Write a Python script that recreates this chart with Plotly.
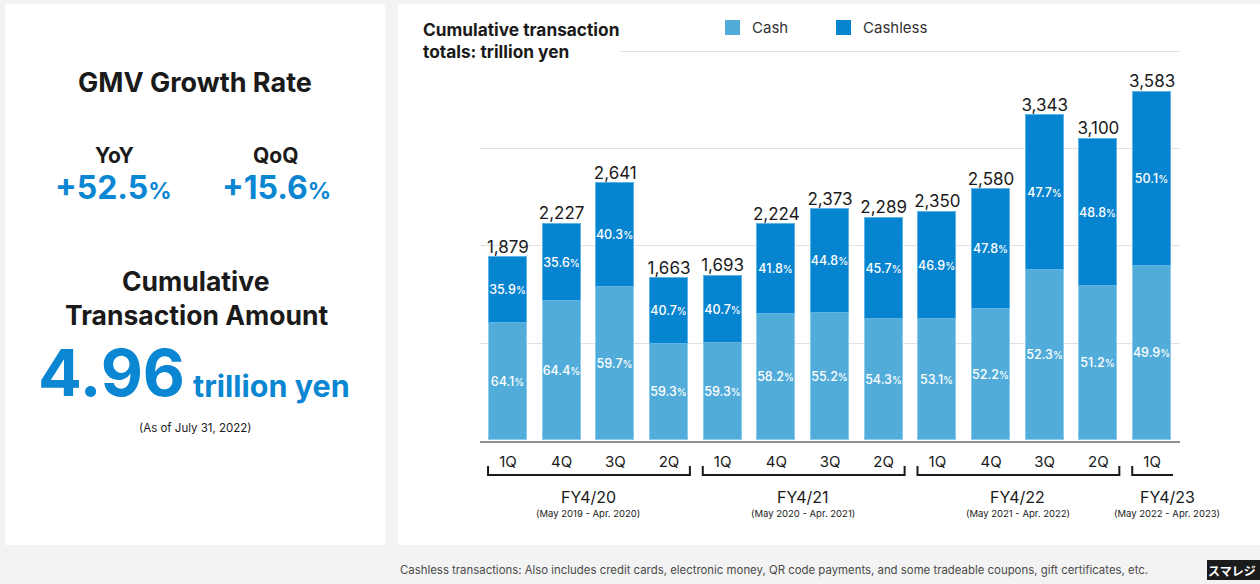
import plotly.graph_objects as go

# ---- data -------------------------------------------------------------
quarters = ["1Q", "4Q", "3Q", "2Q", "1Q", "4Q", "3Q", "2Q", "1Q", "4Q", "3Q", "2Q", "1Q"]
totals = [1879, 2227, 2641, 1663, 1693, 2224, 2373, 2289, 2350, 2580, 3343, 3100, 3583]
cash_pct = [64.1, 64.4, 59.7, 59.3, 59.3, 58.2, 55.2, 54.3, 53.1, 52.2, 52.3, 51.2, 49.9]
cashless_pct = [35.9, 35.6, 40.3, 40.7, 40.7, 41.8, 44.8, 45.7, 46.9, 47.8, 47.7, 48.8, 50.1]

fiscal_years = ["FY4/20", "FY4/21", "FY4/22", "FY4/23"]
fiscal_periods = ["(May 2019 - Apr. 2020)", "(May 2020 - Apr. 2021)",
                  "(May 2021 - Apr. 2022)", "(May 2022 - Apr. 2023)"]
fiscal_groups = [(0, 3), (4, 7), (8, 11), (12, 12)]

yoy_growth = "+52.5"
qoq_growth = "+15.6"
cumulative_amount = "4.96"

# ---- styling ----------------------------------------------------------
W, H = 1260, 584
FONT = "Inter"
CASH = "#52acd9"
CASHLESS = "#0784cf"
ACCENT = "#0a86d2"
INK = "#1a1a1a"

# vertical scale: value 0 sits on y=440.5px, value 4000 on y=51px
Y_TOP = 4040
BASE_PX = 440.5
PX_PER_UNIT = (440.5 - 51) / 4000


def px(x):
    return x / W


def py(y):
    return 1 - y / H


x = list(range(len(quarters)))
cash_vals = [t * c / 100 for t, c in zip(totals, cash_pct)]
cashless_vals = [t - c for t, c in zip(totals, cash_vals)]


def pct_text(v):
    return f"{v:.1f}<span style='font-size:10px'>%</span>"


fig = go.Figure()
fig.add_trace(go.Bar(
    x=x, y=cash_vals, name="Cash", width=0.71,
    marker=dict(color=CASH, line=dict(color="#8ccdee", width=1)),
    text=[pct_text(v) for v in cash_pct], textposition="inside",
    insidetextanchor="middle", textangle=0, constraintext="none",
    textfont=dict(family=FONT, size=12.5, color="white", weight=500),
    hoverinfo="skip",
))
fig.add_trace(go.Bar(
    x=x, y=cashless_vals, name="Cashless", width=0.71,
    marker=dict(color=CASHLESS, line=dict(color="#5fb4e6", width=1)),
    text=[pct_text(v) for v in cashless_pct], textposition="inside",
    insidetextanchor="middle", textangle=0, constraintext="none",
    textfont=dict(family=FONT, size=12.5, color="white", weight=500),
    hoverinfo="skip",
))
# totals above each stack
fig.add_trace(go.Scatter(
    x=x, y=totals, mode="text", text=[f"{t:,}" for t in totals],
    textposition="top center", cliponaxis=False,
    textfont=dict(family=FONT, size=17, color=INK),
    hoverinfo="skip",
))

shapes = []
annotations = []

# white panels on the grey page
shapes.append(dict(type="rect", xref="paper", yref="paper", layer="below",
                   x0=px(5), x1=px(385), y0=py(545), y1=py(4),
                   fillcolor="white", line=dict(width=0)))
shapes.append(dict(type="rect", xref="paper", yref="paper", layer="below",
                   x0=px(398), x1=px(1260), y0=py(545), y1=py(4),
                   fillcolor="white", line=dict(width=0)))

# fiscal-year brackets under the quarter labels
for i, (a, b) in enumerate(fiscal_groups):
    x0, x1 = a - 0.37, b + 0.39
    path = f"M {x0} {py(466)} L {x0} {py(475)} L {x1} {py(475)}"
    if i < len(fiscal_groups) - 1:
        path += f" L {x1} {py(466)}"
    shapes.append(dict(type="path", xref="x", yref="paper", path=path,
                       line=dict(color="#1a1a1a", width=2)))

fy_centers = [(a + b) / 2 for a, b in fiscal_groups]
fy_centers[-1] = 12.28
for c, name, period in zip(fy_centers, fiscal_years, fiscal_periods):
    annotations.append(dict(x=c, y=py(497), xref="x", yref="paper", text=name,
                            xanchor="center", yanchor="middle", showarrow=False,
                            font=dict(family=FONT, size=16, color=INK)))
    annotations.append(dict(x=c, y=py(513), xref="x", yref="paper", text=period,
                            xanchor="center", yanchor="middle", showarrow=False,
                            font=dict(family=FONT, size=9.5, color=INK)))

# chart title and legend
annotations.append(dict(x=px(422), y=py(40), xref="paper", yref="paper",
                        xanchor="left", yanchor="middle", align="left",
                        text="<b>Cumulative transaction<br>totals: trillion yen</b>",
                        showarrow=False, bgcolor="white", borderpad=0,
                        font=dict(family=FONT, size=17.3, color=INK)))
for name, color, sx in [("Cash", CASH, 725), ("Cashless", CASHLESS, 836)]:
    shapes.append(dict(type="rect", xref="paper", yref="paper",
                       x0=px(sx), x1=px(sx + 15), y0=py(35), y1=py(20),
                       fillcolor=color, line=dict(width=0)))
    annotations.append(dict(x=px(sx + 25), y=py(27.5), xref="paper", yref="paper",
                            xanchor="left", yanchor="middle", text=name, showarrow=False,
                            font=dict(family=FONT, size=15, color="#333333")))


# left summary panel
def note(xc, yc, text, size, color=INK, bold=True, anchor="center"):
    annotations.append(dict(x=px(xc), y=py(yc), xref="paper", yref="paper",
                            xanchor=anchor, yanchor="middle", showarrow=False,
                            text=f"<b>{text}</b>" if bold else text,
                            font=dict(family=FONT, size=size, color=color)))


note(195, 83, "GMV Growth Rate", 27)
note(114, 156, "YoY", 21)
note(276, 156, "QoQ", 21)
note(113, 187, f"{yoy_growth}<span style='font-size:23px'>%</span>", 32, ACCENT)
note(276, 187, f"{qoq_growth}<span style='font-size:23px'>%</span>", 32, ACCENT)
note(195, 281, "Cumulative", 26.5)
note(196, 315, "Transaction Amount", 26.5)
note(36, 372, cumulative_amount, 65, ACCENT, anchor="left")
note(191, 385, "trillion yen", 30.5, ACCENT, anchor="left")
note(195, 428, "(As of July 31, 2022)", 11.5, INK, bold=False)

# footnote and logo
note(398, 570, "Cashless transactions: Also includes credit cards, electronic money, "
     "QR code payments, and some tradeable coupons, gift certificates, etc.",
     11.4, "#4a4a4a", bold=False, anchor="left")
shapes.append(dict(type="rect", xref="paper", yref="paper",
                   x0=px(1207), x1=px(1262), y0=py(580), y1=py(560),
                   fillcolor="#1b1b1b", line=dict(width=0)))
annotations.append(dict(x=px(1232), y=py(570), xref="paper", yref="paper",
                        xanchor="center", yanchor="middle",
                        text="<b>スマレジ</b>", showarrow=False,
                        font=dict(family="Noto Sans CJK JP", size=12, color="white")))

fig.update_layout(
    width=W, height=H,
    margin=dict(l=0, r=0, t=0, b=0),
    paper_bgcolor="#f3f3f3", plot_bgcolor="rgba(0,0,0,0)",
    barmode="stack", bargap=0, showlegend=False,
    shapes=shapes, annotations=annotations,
    font=dict(family=FONT, color=INK),
    xaxis=dict(domain=[px(480), px(1180)], range=[-0.52, 12.52],
               tickmode="array", tickvals=x, ticktext=quarters,
               tickfont=dict(family=FONT, size=15, color=INK),
               ticks="outside", ticklen=6, tickcolor="rgba(0,0,0,0)",
               showline=True, linecolor="#8f8f8f", linewidth=2,
               showgrid=False, zeroline=False, fixedrange=True),
    yaxis=dict(domain=[py(BASE_PX), py(BASE_PX - Y_TOP * PX_PER_UNIT)],
               range=[0, Y_TOP],
               tickvals=[1000, 2000, 3000, 4000], showticklabels=False,
               showgrid=True, gridcolor="#e2e2e2", gridwidth=1.3,
               zeroline=False, fixedrange=True),
)

fig.write_html("out.html")
